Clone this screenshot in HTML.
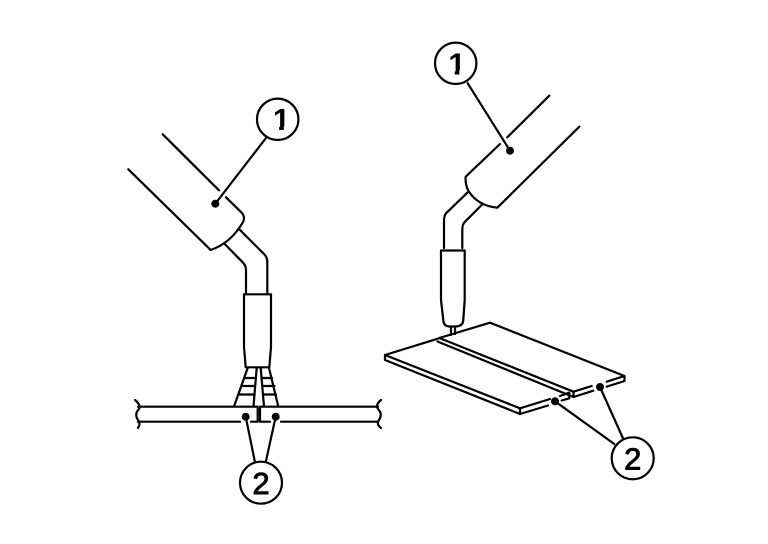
<!DOCTYPE html>
<html lang="en">
<head>
<meta charset="utf-8">
<title>Welding diagram</title>
<style>
html,body{margin:0;padding:0;background:#fff;width:768px;height:544px;overflow:hidden}
svg{display:block}
.l{fill:none;stroke:#000;stroke-width:2.2;stroke-linejoin:round;stroke-linecap:round}
.t{font-family:"Liberation Sans",sans-serif;font-size:31px;fill:#000;text-anchor:middle}
.b{font-weight:bold}
.r{stroke:#000;stroke-width:.9}
</style>
</head>
<body>
<svg width="768" height="544" viewBox="0 0 768 544" xmlns="http://www.w3.org/2000/svg">
<g class="l">
<!-- left torch -->
<path d="M162.7 134.3L219 190.3"/>
<path d="M226 197.3L241.7 212.7Q245.5 217 243 222Q231 243 210.7 250L128.3 169.3"/>
<path d="M239.3 229.3L265 255Q267.3 258 267.3 262V294"/>
<path d="M224.7 244L242.7 262.3Q246 265.5 246 270V294"/>
<path d="M244 294.3H271"/>
<path d="M244 294.3V347L245.7 367.3H269.3L271 347V294.3"/>
<!-- left sparks -->
<path d="M247.7 368L234 406.5"/>
<path d="M256.7 368L253.5 406.5"/>
<path d="M260.7 368L264 406.5"/>
<path d="M269 368L278.3 406.5"/>
<path d="M244 378H256M262 378H272M241.3 386H255M262.5 386H274.5M238.3 394.5H254.5M263 394.5H276"/>
<!-- left plates -->
<path d="M138 406.7H257.7V421.7H251M240 421.7H138"/>
<path d="M378 406.7H260V421.7H270M281 421.7H378"/>
<path d="M135 400Q141 405 139 409Q134 414 138 420Q141 424 138 428"/>
<path d="M381 400Q375 405 378 409Q383 414 379 420Q376 424 381 428"/>
<!-- left leaders -->
<path d="M266 138L215.3 203.7"/>
<path d="M245.7 416.7L255 462.3"/>
<path d="M275.7 416.7L265.7 462.3"/>
<!-- right torch -->
<path d="M549.3 95.7L507.3 137.3"/>
<path d="M500 144L465.7 176.7Q465 184 468.3 190.7Q478 206 497.3 207.7L579.3 126.7"/>
<path d="M467.7 192.3L446 213.3Q444 216 444 221V248"/>
<path d="M481.7 205L465 221.7Q462.3 224 462.3 230V248"/>
<path d="M441 250.5H464.7V300L463.3 320Q463 326 456 326.5H449Q443.5 326 443.3 320L441 300Z"/>
<path d="M451 326.5V335M455 326.5V334"/>
<!-- right plate A (front) -->
<path d="M385 355L439 338.3"/>
<path d="M385 355V360L520 414V408.3L385 355"/>
<path d="M520 408.3L550 399M560 396L569.3 392.7V398.3L561.7 400.5M520 414L548 405.5"/>
<!-- right plate B (back) -->
<path d="M439.3 338L490 322.7L624.5 376V381L606.7 386.7"/>
<path d="M439.3 338L573.5 391.7V397L437.5 341.5"/>
<path d="M573.5 391.7L591.7 386M606.7 381.7L624.5 376M573.5 397L593.3 390.7"/>
<!-- right leaders -->
<path d="M467.7 83.3L510 150.7"/>
<path d="M614.3 444L555 401.3"/>
<path d="M623.3 439L600 387"/>
<!-- callouts -->
<circle cx="277.7" cy="119.3" r="20.7" fill="#fff"/>
<circle cx="261" cy="482.7" r="21" fill="#fff"/>
<circle cx="455.7" cy="63.3" r="20.7" fill="#fff"/>
<circle cx="632.7" cy="458.3" r="21" fill="#fff"/>
</g>
<g fill="#000">
<circle cx="215.3" cy="203.7" r="4"/>
<circle cx="245.7" cy="416.7" r="4"/>
<circle cx="275.7" cy="416.7" r="4"/>
<circle cx="510" cy="150.7" r="4"/>
<circle cx="555" cy="401.3" r="4"/>
<circle cx="600" cy="387" r="4"/>
</g>
<text class="t b" x="281.5" y="130">1</text>
<text class="t r" x="261" y="494">2</text>
<text class="t b" x="457" y="74.3">1</text>
<text class="t r" x="632.7" y="469.5">2</text>
<!-- trim the foot of each "1" so only the stem reaches the baseline -->
<g fill="#fff">
<rect x="268" y="126" width="11.2" height="5.5"/>
<rect x="283.8" y="126" width="8" height="5.5"/>
<rect x="443.5" y="70.3" width="11.2" height="5.5"/>
<rect x="459.3" y="70.3" width="8" height="5.5"/>
</g>
</svg>
</body>
</html>
